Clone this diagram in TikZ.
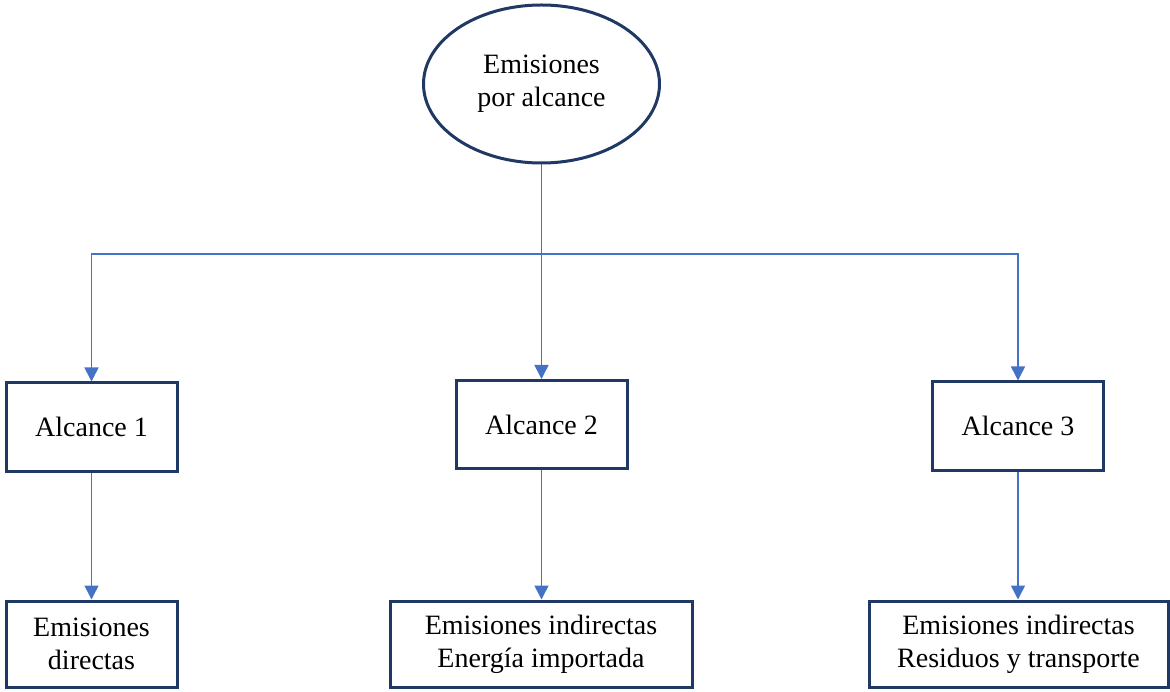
\documentclass[tikz,border=0pt]{standalone}
\usepackage{fontspec}
\setmainfont{Liberation Serif}
\usetikzlibrary{shapes.geometric,arrows.meta}
\definecolor{navy}{RGB}{31,56,100}
\definecolor{linkblue}{RGB}{68,114,196}
\begin{document}
\begin{tikzpicture}[x=1pt,y=-1pt,
  every node/.style={font=\fontsize{28}{33}\selectfont, align=center, text=black},
  box/.style={draw=navy, line width=3pt, rectangle, inner sep=0pt},
  link/.style={draw=linkblue, line width=1.6pt},
  arr/.style={link, -{Triangle[width=14pt,length=14pt]}}]
  \useasboundingbox (0,0) rectangle (1170,692);

  % root
  \node[ellipse, draw=navy, line width=3pt, minimum width=236, minimum height=158, inner sep=0pt]
    (root) at (541.5,84) {Emisiones\\por alcance};

  % scopes
  \node[box, minimum width=171, minimum height=88] (a1) at (91.5,427) {Alcance 1};
  \node[box, minimum width=171, minimum height=88] (a2) at (541.5,424.5) {Alcance 2};
  \node[box, minimum width=171, minimum height=88] (a3) at (1018,426) {Alcance 3};

  % emission types
  \node[box, minimum width=171, minimum height=86] (e1) at (91.5,644) {Emisiones\\directas};
  \node[box, minimum width=302, minimum height=86] (e2) at (541,644) {Emisiones indirectas\\Energía importada};
  \node[box, minimum width=299, minimum height=86] (e3) at (1018.5,644) {Emisiones indirectas\\Residuos y transporte};

  % connectors
  \coordinate (j) at (541.5,254);
  \draw[arr] (root.south) -- (a2.north);
  \draw[arr] (j) -| (a1.north);
  \draw[arr] (j) -| (a3.north);
  \draw[arr] (a1.south) -- (e1.north);
  \draw[arr] (a2.south) -- (e2.north -| a2.south);
  \draw[arr] (a3.south) -- (e3.north -| a3.south);
\end{tikzpicture}
\end{document}
